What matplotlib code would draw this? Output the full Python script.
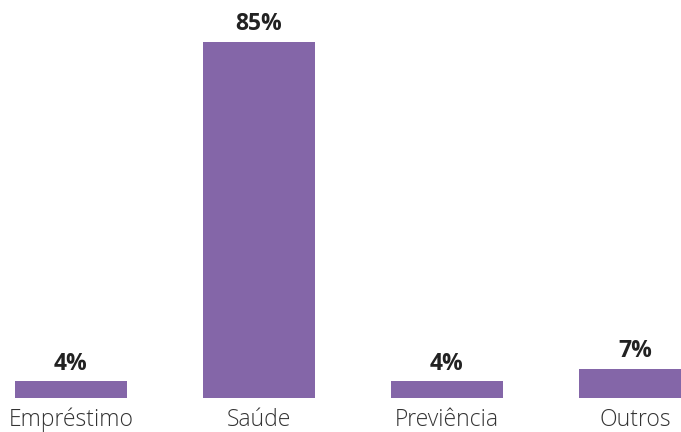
import matplotlib.pyplot as plt

# dados
categorias = ['Empréstimo', 'Saúde', 'Previência', 'Outros']
valores = [4, 85, 4, 7]
rotulos = ['4%', '85%', '4%', '7%']

cor = '#8466A8'

plt.rcParams['font.family'] = ['Open Sans', 'DejaVu Sans']

fig = plt.figure(figsize=(6.81, 4.32), dpi=100)
ax = fig.add_axes([0, 34 / 432, 1, 398 / 432])

x = range(len(categorias))
bars = ax.bar(x, valores, width=0.596, color=cor)

for b, txt in zip(bars, rotulos):
    ax.annotate(txt, (b.get_x() + b.get_width() / 2, b.get_height()),
                xytext=(0, 4), textcoords='offset points',
                ha='center', va='bottom', fontsize=16.5, fontweight='bold',
                color='#222222')

ax.set_xlim(-71 / 188, (681 - 71) / 188)
ax.set_ylim(0, 95)
ax.set_xticks(list(x))
ax.set_xticklabels(categorias, fontsize=16.5, color='#333333', fontweight='light')
ax.tick_params(axis='x', length=0, pad=7)
ax.set_yticks([])
for s in ax.spines.values():
    s.set_visible(False)

fig.savefig('out.png', dpi=100)
